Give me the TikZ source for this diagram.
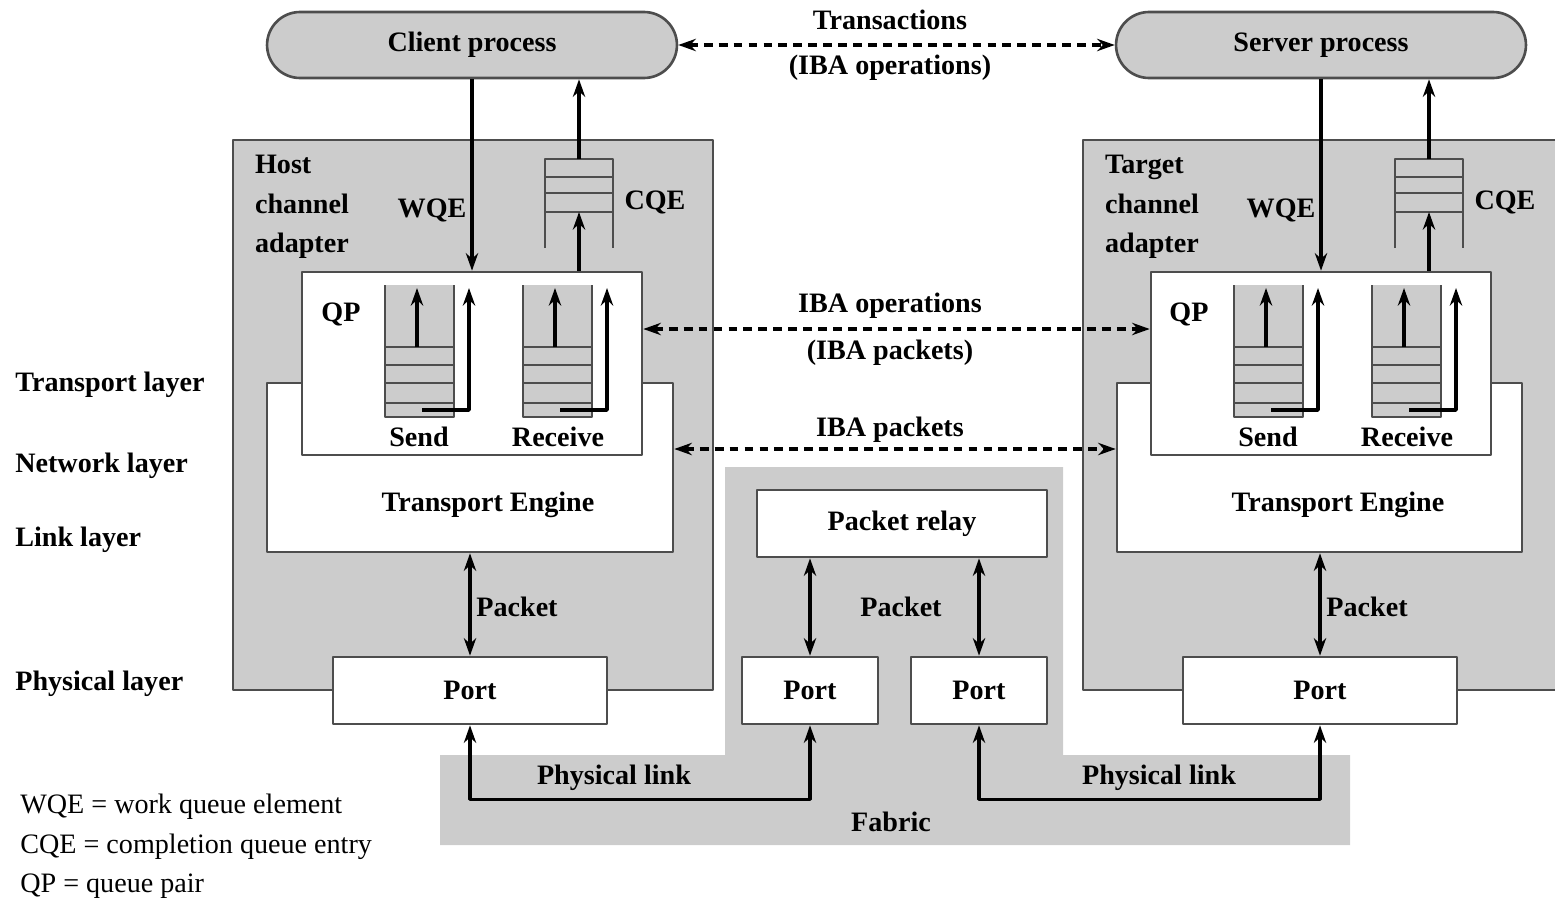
\documentclass[tikz,border=0pt]{standalone}
\usepackage{fontspec}
\setmainfont{Liberation Serif}
\usetikzlibrary{arrows.meta}
\definecolor{panel}{HTML}{CCCCCC}
\definecolor{edge}{HTML}{4D4D4D}
\newcommand\diagfont{\fontsize{16}{19}\selectfont}
\tikzset{
  every picture/.style={line join=round, >={Stealth[length=10pt,width=7pt]}},
  box/.style={draw=edge, line width=1.5pt, fill=white, inner sep=0pt},
  proc/.style={box, fill=panel, rounded corners=0.66cm, minimum width=8.2cm, minimum height=1.32cm, font=\diagfont\bfseries},
  adapter/.style={box, fill=panel, minimum height=11cm},
  port/.style={box, minimum height=1.34cm, font=\diagfont\bfseries},
  link/.style={line width=2pt},
  dashlink/.style={line width=2pt, dash pattern=on 5pt off 3.5pt, <->},
  lbl/.style={font=\diagfont\bfseries, inner sep=1pt},
  note/.style={anchor=west, inner sep=0pt, font=\diagfont},
}
\begin{document}
\begin{tikzpicture}[x=0.02cm,y=-0.02cm]
\useasboundingbox (0,0) rectangle (1555,899);
% adapters and fabric
\node[adapter, minimum width=9.6cm] (hca) at (473,415) {};
\node[adapter, minimum width=10cm] (tca) at (1333,415) {};
\fill[panel] (725,467) -- (1063,467) -- (1063,755) -- (1350,755) -- (1350,845)
  -- (440,845) -- (440,755) -- (725,755) -- cycle;
\node[lbl, anchor=west, align=left, font=\bfseries\fontsize{16}{22.4}\selectfont] (hcatext) at (253,207) {Host\\channel\\adapter};
\node[lbl, anchor=west, align=left, font=\bfseries\fontsize{16}{22.4}\selectfont] (tcatext) at (1103,207) {Target\\channel\\adapter};
% processes
\node[proc] (client) at (472,45) {Client process};
\node[proc] (server) at (1321,45) {Server process};
% engines and queue pairs
\node[box, minimum width=8.12cm, minimum height=3.38cm] (hte) at (470,467.5) {};
\node[box, minimum width=8.1cm, minimum height=3.38cm] (tte) at (1319.5,467.5) {};
\node[box, minimum width=6.8cm, minimum height=3.66cm] (hqp) at (472,363.5) {};
\node[box, minimum width=6.8cm, minimum height=3.66cm] (tqp) at (1321,363.5) {};
\node[lbl] (hteText) at (488,505) {Transport Engine};
\node[lbl] (tteText) at (1338,505) {Transport Engine};
\node[lbl] (hqpText) at (341,314) {QP};
\node[lbl] (tqpText) at (1189,314) {QP};
% send and receive queues
\foreach \qx in {385,523,1234,1372}{
  \fill[panel] (\qx,285) rectangle ++(69,132);
  \draw[edge, line width=1.2pt] (\qx,285) -- (\qx,417) -- ++(69,0) -- ++(0,-132);
  \foreach \ly in {347,365,383,403} \draw[edge, line width=1.2pt] (\qx,\ly) -- ++(69,0);
  \draw[link,->] (\qx+32,347) -- (\qx+32,288);
  \draw[link,->] (\qx+37,410) -- (\qx+84,410) -- (\qx+84,288);
}
\node[lbl] (hsend) at (419,437) {Send};
\node[lbl] (hrecv) at (558,437) {Receive};
\node[lbl] (tsend) at (1268,437) {Send};
\node[lbl] (trecv) at (1407,437) {Receive};
% completion queues
\foreach \cx in {545,1395}{
  \draw[edge, line width=1.2pt] (\cx,248) -- (\cx,159) -- ++(68,0) -- (\cx+68,248);
  \foreach \ly in {177,193,212} \draw[edge, line width=1.2pt] (\cx,\ly) -- ++(68,0);
}
\coordinate (hcqbot) at (579,212);
\coordinate (hcqtop) at (579,159);
\coordinate (tcqbot) at (1429,212);
\coordinate (tcqtop) at (1429,159);
\draw[link,->] (hqp.north -| hcqbot) -- (hcqbot);
\draw[link,->] (hcqtop) -- (client.south -| hcqtop);
\draw[link,->] (tqp.north -| tcqbot) -- (tcqbot);
\draw[link,->] (tcqtop) -- (server.south -| tcqtop);
\draw[link,->] (client.south) -- (hqp.north);
\draw[link,->] (server.south) -- (tqp.north);
\node[lbl] (hwqe) at (432,210) {WQE};
\node[lbl] (hcqe) at (655,202) {CQE};
\node[lbl] (twqe) at (1281,210) {WQE};
\node[lbl] (tcqe) at (1505,202) {CQE};
% ports and relay
\node[port, minimum width=5.48cm] (hport) at (470,690.5) {Port};
\node[port, minimum width=5.48cm] (tport) at (1320,690.5) {Port};
\node[port, minimum width=2.72cm] (fportA) at (810,690.5) {Port};
\node[port, minimum width=2.72cm] (fportB) at (979,690.5) {Port};
\node[port, minimum width=5.8cm] (relay) at (902,523.5) {Packet relay};
\draw[link,<->] (hte.south -| hport) -- (hport.north);
\draw[link,<->] (tte.south -| tport) -- (tport.north);
\draw[link,<->] (relay.south -| fportA) -- (fportA.north);
\draw[link,<->] (relay.south -| fportB) -- (fportB.north);
\node[lbl] (hpkt) at (517,607) {Packet};
\node[lbl] (fpkt) at (901,607) {Packet};
\node[lbl] (tpkt) at (1367,607) {Packet};
% physical links
\draw[link,<->] (hport.south) -- ++(0,74) -| (fportA.south);
\draw[link,<->] (fportB.south) -- ++(0,74) -| (tport.south);
\node[lbl] (hlink) at (614,778) {Physical link};
\node[lbl] (tlink) at (1159,778) {Physical link};
\node[lbl] (fabric) at (891,822) {Fabric};
% peer exchanges
\coordinate (opsy) at (0,329);
\coordinate (pkty) at (0,449);
\draw[dashlink] (client.east) -- (server.west);
\draw[dashlink] (hqp.east |- opsy) -- (tqp.west |- opsy);
\draw[dashlink] (hte.east |- pkty) -- (tte.west |- pkty);
\node[lbl] (trans) at (890,20) {Transactions};
\node[lbl] (transB) at (890,68) {(IBA operations)};
\node[lbl] (ops) at (890,306) {IBA operations};
\node[lbl] (opsB) at (890,353) {(IBA packets)};
\node[lbl] (pkts) at (890,430) {IBA packets};
% layers
\node[note, font=\diagfont\bfseries] (ltrans) at (15,385) {Transport layer};
\node[note, font=\diagfont\bfseries] (lnet) at (15,466) {Network layer};
\node[note, font=\diagfont\bfseries] (llink) at (15,540) {Link layer};
\node[note, font=\diagfont\bfseries] (lphys) at (15,684) {Physical layer};
% legend
\node[note] (keyA) at (20,807) {WQE = work queue element};
\node[note] (keyB) at (20,847) {CQE = completion queue entry};
\node[note] (keyC) at (20,886) {QP = queue pair};
\end{tikzpicture}
\end{document}
